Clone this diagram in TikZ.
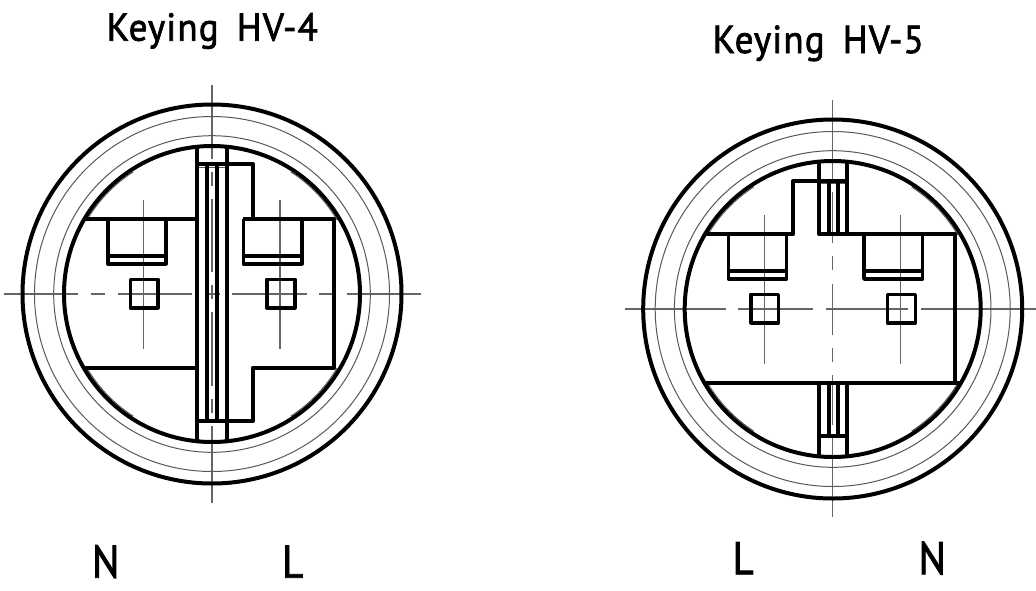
\documentclass[tikz,border=0pt]{standalone}
\usepackage{fontspec}
\newfontfamily\cadtitle[LetterSpace=3,FakeBold=1.8,FakeStretch=0.95]{PT Sans}
\newfontfamily\cadmark[FakeBold=1.8,FakeStretch=0.88]{PT Sans}
\tikzset{
  heavy/.style={line width=4pt,line join=round,black},
  medium/.style={line width=3.6pt,line join=round,black},
  fine/.style={line width=1pt,black!65},
  axis/.style={line width=1.2pt,black!60},
  titletext/.style={inner sep=0pt,anchor=base west,font=\cadtitle\fontsize{39}{39}\selectfont},
  marktext/.style={inner sep=0pt,anchor=base west,font=\cadmark\fontsize{46}{46}\selectfont},
}
% common rings, chords' grey edge, pockets and squares; origin = centre of the connector
\newcommand{\ringset}{
  \draw[fine] (0,0) circle (177.5);
  \draw[fine] (0,0) circle (158.3);
  \begin{scope}
    \clip (-150,-122) rectangle (150,-74) (-150,74) rectangle (150,122);
    \draw[fine] (0,0) circle (145.4);
  \end{scope}
  \draw[axis] (-68.3,-94) -- (-68.3,55.3);
  \draw[axis] (68,-94) -- (68,55.3);
  \draw[heavy] (0,0) circle (189.5);
  \draw[heavy] (0,0) circle (148);
  \draw[medium] (-104.3,-75) -- (-104.3,-30) -- (-46.3,-30) -- (-46.3,-75);
  \draw[medium] (-104.3,-38) -- (-46.3,-38);
  \draw[medium] (31.3,-75) -- (31.3,-30) -- (89.7,-30) -- (89.7,-75);
  \draw[medium] (31.3,-38) -- (89.7,-38);
  \draw[medium] (-81.7,-14.7) rectangle (-54.3,13.7);
  \draw[medium] (54.7,-14.7) rectangle (82.7,13.7);
}
\begin{document}
\begin{tikzpicture}[x=1pt,y=-1pt]
\useasboundingbox (0,0) rectangle (1036,590);
\fill[white] (0,0) rectangle (1036,590);

% ---------- Keying HV-4 ----------
\begin{scope}[shift={(212,294)}]
  \foreach \a/\b in {-208/-134.5,-121.3/-107,-94/-20,-7/8,20/94.7,107/122,134.7/208.7}
    \draw[axis] (\a,0) -- (\b,0);
  \foreach \a/\b in {-209/-135,-122/-108,-95/-22,-9/5,18/92,105/119,132/209}
    \draw[axis] (0,\a) -- (0,\b);
  \ringset
  \draw[fine] (-15,-127) -- (15,-127);
  \draw[heavy] (-127.6,-75) -- (-15,-75);
  \draw[heavy] (-128.4,73.6) -- (-15,73.6);
  \draw[heavy] (-15,-147.2) -- (-15,147.2);
  \draw[heavy] (15,-147.2) -- (15,147.2);
  \draw[heavy] (-5,-130) -- (-5,127);
  \draw[heavy] (5,-130) -- (5,127);
  \draw[heavy] (-15,-130) -- (41,-130) -- (41,-75);
  \draw[heavy] (31.3,-75) -- (122.3,-75) -- (122.3,73.6) -- (41,73.6) -- (41,127) -- (-15,127);
\end{scope}

% ---------- Keying HV-5 ----------
\begin{scope}[shift={(832.7,309)}]
  \foreach \a/\b in {-208/-107,-94.7/-20,-6.7/75.3,88.3/203.3}
    \draw[axis] (\a,0) -- (\b,0);
  \foreach \a/\b in {-209/-130,-117.3/-65.7,-53/-39,-25/26,38.7/52.7,66/116,127.7/208}
    \draw[axis] (0,\a) -- (0,\b);
  \ringset
  \draw[fine] (-13.7,-125.5) -- (14.6,-125.5);
  \draw[heavy] (-127.6,-75) -- (-39.4,-75) -- (-39.4,-128.3) -- (-13.7,-128.3);
  \draw[heavy] (-13.7,-147.3) -- (-13.7,-75) -- (121.8,-75) -- (121.8,73.6);
  \draw[heavy] (14.6,-147.3) -- (14.6,-75);
  \draw[heavy] (-3.7,-128.3) -- (-3.7,-75);
  \draw[heavy] (5.3,-128.3) -- (5.3,-75);
  \draw[heavy] (-13.7,-128.3) -- (14.6,-128.3);
  \draw[heavy] (-128.4,73.6) -- (128.4,73.6);
  \draw[heavy] (-13.7,73.6) -- (-13.7,147.3);
  \draw[heavy] (14.6,73.6) -- (14.6,147.3);
  \draw[heavy] (-3.7,73.6) -- (-3.7,127);
  \draw[heavy] (5.3,73.6) -- (5.3,127);
  \draw[heavy] (-13.7,127) -- (14.6,127);
\end{scope}

% ---------- texts ----------
\node[titletext] (titleA) at (106.5,40.7) {Keying\hspace{7pt} HV-4};
\node[titletext] (titleB) at (712.5,53) {Keying\hspace{7pt} HV-5};
\node[marktext] (nA) at (92,577.7) {N};
\node[marktext] (lA) at (282,577.7) {L};
\node[marktext] (lB) at (732.5,574.3) {L};
\node[marktext] (nB) at (918.5,574.3) {N};
\end{tikzpicture}
\end{document}
